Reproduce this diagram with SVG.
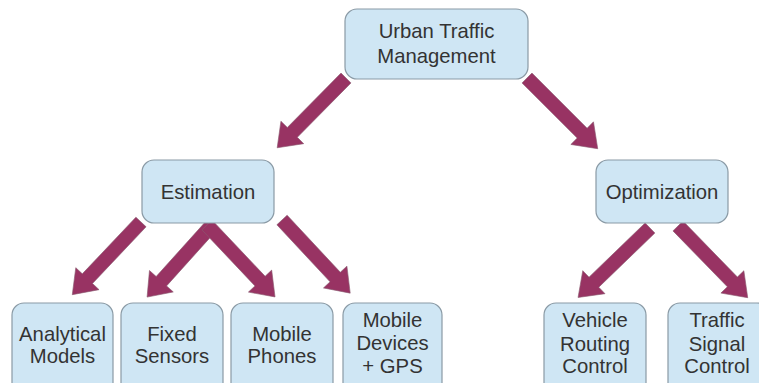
<svg xmlns="http://www.w3.org/2000/svg" xmlns:xlink="http://www.w3.org/1999/xlink" width="759" height="383" viewBox="0 0 759 383">
<style>
.box{fill:#cfe6f4;stroke:#8a9aa5;stroke-width:1.2}
.t{font-family:"Liberation Sans",Arial,sans-serif;font-size:20.3px;fill:#333333;text-anchor:middle}
.arr{fill:#983363;stroke:#8a5a70;stroke-width:0.6}
</style>
<defs>
<path id="arrow" d="M0,-7 L78,-7 L78,-16 L100,0 L78,16 L78,7 L0,7 Z"/>
</defs>
<rect width="759" height="383" fill="#ffffff"/>
<g id="connectors">
<use xlink:href="#arrow" class="arr" transform="translate(346,78) rotate(134.6) scale(0.98,1)"/>
<use xlink:href="#arrow" class="arr" transform="translate(527,78) rotate(45)"/>
<use xlink:href="#arrow" class="arr" transform="translate(141,222) rotate(133.4)"/>
<use xlink:href="#arrow" class="arr" transform="translate(212,225) rotate(132) scale(0.97,1)"/>
<use xlink:href="#arrow" class="arr" transform="translate(207,225) rotate(46.6) scale(0.99,1)"/>
<use xlink:href="#arrow" class="arr" transform="translate(282,220) rotate(47)"/>
<use xlink:href="#arrow" class="arr" transform="translate(650,228) rotate(136)"/>
<use xlink:href="#arrow" class="arr" transform="translate(678,226) rotate(45.8)"/>
</g>
<g id="urban">
<rect class="box" x="345" y="9" width="183" height="70" rx="12"/>
<text class="t" x="436.5" y="38">Urban Traffic</text>
<text class="t" x="436.5" y="63">Management</text>
</g>
<g id="estimation">
<rect class="box" x="142" y="160" width="132" height="63" rx="12"/>
<text class="t" x="208" y="199">Estimation</text>
</g>
<g id="optimization">
<rect class="box" x="596" y="160" width="132" height="63" rx="12"/>
<text class="t" x="662" y="199">Optimization</text>
</g>
<g id="analytical">
<rect class="box" x="12" y="303" width="101" height="100" rx="12"/>
<text class="t" x="62.5" y="341">Analytical</text>
<text class="t" x="62.5" y="363">Models</text>
</g>
<g id="fixed">
<rect class="box" x="121" y="303" width="102" height="100" rx="12"/>
<text class="t" x="172" y="341">Fixed</text>
<text class="t" x="172" y="363">Sensors</text>
</g>
<g id="phones">
<rect class="box" x="231" y="303" width="102" height="100" rx="12"/>
<text class="t" x="282" y="341">Mobile</text>
<text class="t" x="282" y="363">Phones</text>
</g>
<g id="devices">
<rect class="box" x="343" y="303" width="99" height="100" rx="12"/>
<text class="t" x="392.5" y="327">Mobile</text>
<text class="t" x="392.5" y="350">Devices</text>
<text class="t" x="392.5" y="373">+ GPS</text>
</g>
<g id="vehicle">
<rect class="box" x="544" y="303" width="102" height="100" rx="12"/>
<text class="t" x="595" y="327">Vehicle</text>
<text class="t" x="595" y="351">Routing</text>
<text class="t" x="595" y="373">Control</text>
</g>
<g id="signal">
<rect class="box" x="668" y="303" width="101" height="100" rx="12"/>
<text class="t" x="717" y="327">Traffic</text>
<text class="t" x="717" y="351">Signal</text>
<text class="t" x="717" y="373">Control</text>
</g>
</svg>
